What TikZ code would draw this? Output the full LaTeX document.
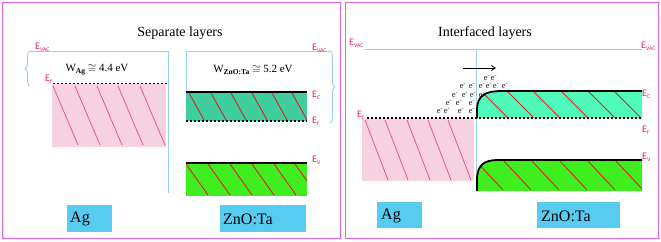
\documentclass[tikz,border=0pt]{standalone}
\usepackage{fontspec}
\setmainfont{Liberation Serif}
\newfontfamily\labfont{Carlito}
\usetikzlibrary{decorations.pathreplacing,arrows.meta}
\definecolor{frame}{RGB}{226,100,226}
\definecolor{vacblue}{RGB}{150,208,236}
\definecolor{labred}{RGB}{232,36,96}
\definecolor{pinkfill}{RGB}{246,210,226}
\definecolor{pinkline}{RGB}{240,84,136}
\definecolor{tealA}{RGB}{64,206,158}
\definecolor{tealB}{RGB}{80,250,184}
\definecolor{greenfill}{RGB}{64,238,32}
\definecolor{hatchred}{RGB}{226,30,40}
\definecolor{boxcyan}{RGB}{88,204,240}
\definecolor{egray}{RGB}{30,30,30}
\newcommand{\elab}[2]{E\raisebox{-0.35ex}{\fontsize{5.8}{5.8}\selectfont #2}}
\begin{document}
\begin{tikzpicture}[x=1pt,y=-1pt,
  lab/.style={font=\labfont\fontsize{10}{10}\selectfont, text=labred, inner sep=0pt, anchor=west},
  title/.style={font=\fontsize{14}{14}\selectfont, inner sep=0pt},
  wtext/.style={font=\fontsize{11}{11}\selectfont, inner sep=0pt},
  boxtext/.style={font=\fontsize{16}{16}\selectfont, inner sep=0pt, anchor=west},
  vacline/.style={draw=vacblue, line width=0.9pt},
  panel/.style={draw=frame, line width=1pt},
  fermi/.style={draw=black, line width=1.3pt, dash pattern=on 2.4pt off 1.6pt},
  bandedge/.style={draw=black, line width=1.8pt},
  pinkhatch/.style={draw=pinkline, line width=0.8pt},
  redhatch/.style={draw=hatchred, line width=0.9pt},
  mbox/.style={fill=boxcyan},
  elec/.style={font=\fontsize{8.5}{8.5}\selectfont, text=egray, inner sep=0pt}
]
\useasboundingbox (0,0) rectangle (661,241);
\fill[white] (0,0) rectangle (661,241);

% ================= panels
\draw[panel] (2,2) rectangle (340,238);
\draw[panel] (345.5,2) rectangle (658,238);

% ================= LEFT PANEL
\node[title] (t1) at (180,33) {Separate layers};

% vacuum lines
\draw[vacline] (30,51) -- (168,51) -- (168,193);
\draw[vacline] (186,92) -- (186,51) -- (330,51);
\draw[vacline, decorate, decoration={brace, amplitude=5pt}] (30,86) -- (30,51);
\draw[vacline, decorate, decoration={brace, amplitude=5pt}] (330,51) -- (330,123);

% Ag band
\fill[pinkfill] (52,84) rectangle (166,147);
\begin{scope}
  \clip (52,84) rectangle (166,147);
  \foreach \x in {53,75,97,118,140} \draw[pinkhatch] (\x,86) -- ++(25,59);
\end{scope}
\draw[fermi] (53,83.5) -- (168,83.5);

% ZnO conduction band
\fill[tealA] (186,92) rectangle (307,121);
\begin{scope}
  \clip (186,92) rectangle (307,121);
  \foreach \x in {189,211,231,252,272,292} \draw[redhatch] (\x,93) -- ++(15,27);
\end{scope}
\draw[bandedge] (186,92) -- (307,92);
\draw[fermi] (186,121) -- (307,121);

% ZnO valence band
\fill[greenfill] (186,163) rectangle (307,196);
\begin{scope}
  \clip (186,163) rectangle (307,196);
  \foreach \x in {164,186,208,230,252,274,295} \draw[redhatch] (\x,164) -- ++(22,31);
\end{scope}
\draw[bandedge] (186,163) -- (307,163);

% labels
\node[lab] (evacL1) at (35,47) {\elab{E}{VAC}};
\node[lab] (efL1) at (45,79) {\elab{E}{f}};
\node[lab] (evacR1) at (312,48) {\elab{E}{VAC}};
\node[lab] (ecR1) at (312,95) {\elab{E}{C}};
\node[lab] (efR1) at (312,121) {\elab{E}{f}};
\node[lab] (evR1) at (312,160) {\elab{E}{V}};

\node[wtext] (wag) at (97,70) {W\raisebox{-0.4ex}{\fontsize{7.5}{7.5}\selectfont\bfseries Ag} $\cong$ 4.4 eV};
\node[wtext] (wzn) at (253,70) {W\raisebox{-0.4ex}{\fontsize{7.5}{7.5}\selectfont\bfseries ZnO:Ta} $\cong$ 5.2 eV};

% material boxes
\fill[mbox] (67,205) rectangle (112,232);
\node[boxtext] (ag1) at (70,219) {Ag};
\fill[mbox] (220,205) rectangle (306,232);
\node[boxtext] (zn1) at (223,219) {ZnO:Ta};

% ================= RIGHT PANEL
\node[title] (t2) at (485,33) {Interfaced layers};

\draw[vacline] (365,49) -- (642,49);
\draw[vacline] (476.5,49) -- (476.5,191);

% Ag band
\fill[pinkfill] (362,118) rectangle (474,181);
\begin{scope}
  \clip (362,118) rectangle (474,181);
  \foreach \x in {365,385,407,428,448} \draw[pinkhatch] (\x,120) -- ++(23,60);
\end{scope}

% ZnO conduction band (bent)
\path[fill=tealB] (477,118) -- (477,110) .. controls (477,95) and (486,91) .. (502,91) -- (642,91) -- (642,118) -- cycle;
\begin{scope}
  \clip (477,118) -- (477,110) .. controls (477,95) and (486,91) .. (502,91) -- (642,91) -- (642,118) -- cycle;
  \foreach \x in {481,507,533,561,588,614} \draw[redhatch] (\x,91) -- ++(26,26);
\end{scope}
\draw[bandedge] (477,118) -- (477,110) .. controls (477,95) and (486,91) .. (502,91) -- (642,91);

% ZnO valence band (bent)
\path[fill=greenfill] (477,191) -- (477,180) .. controls (477,165) and (484,160) .. (498,160) -- (642,160) -- (642,191) -- cycle;
\begin{scope}
  \clip (477,191) -- (477,180) .. controls (477,165) and (484,160) .. (498,160) -- (642,160) -- (642,191) -- cycle;
  \foreach \x in {475,503,531,559,587,615} \draw[redhatch] (\x,160) -- ++(28,30);
\end{scope}
\draw[bandedge] (477,191) -- (477,180) .. controls (477,165) and (484,160) .. (498,160) -- (642,160);

\draw[fermi] (367,118) -- (642,118);

% labels
\node[lab] (evacL2) at (349,43) {\elab{E}{VAC}};
\node[lab] (efL2) at (357,115) {\elab{E}{f}};
\node[lab] (evacR2) at (641,46) {\elab{E}{VAC}};
\node[lab] (ecR2) at (642,94) {\elab{E}{C}};
\node[lab] (efR2) at (642,130) {\elab{E}{f}};
\node[lab] (evR2) at (642,157) {\elab{E}{V}};

% electron flow arrow
\coordinate (arrS) at (463,68);
\coordinate (arrE) at (496,68);
\draw[line width=0.8pt, -{Straight Barb[length=4pt,width=5pt]}] (arrS) -- (arrE);

% electrons
\foreach \ex/\ey [count=\i] in {487/78,494/78,
  463/86,472/86,482/86,489/86,496/86,505/86,
  455/95,465/95,473/95,482/95,
  449/103,459/103,472/103,
  440/111,447/111,461/111,472/111}
  \node[elec] (el\i) at (\ex,\ey) {e\textsuperscript{-}};

% material boxes
\fill[mbox] (377,202) rectangle (422,228);
\node[boxtext] (ag2) at (381,216) {Ag};
\fill[mbox] (537,202) rectangle (620,228);
\node[boxtext] (zn2) at (541,216) {ZnO:Ta};
\end{tikzpicture}
\end{document}
